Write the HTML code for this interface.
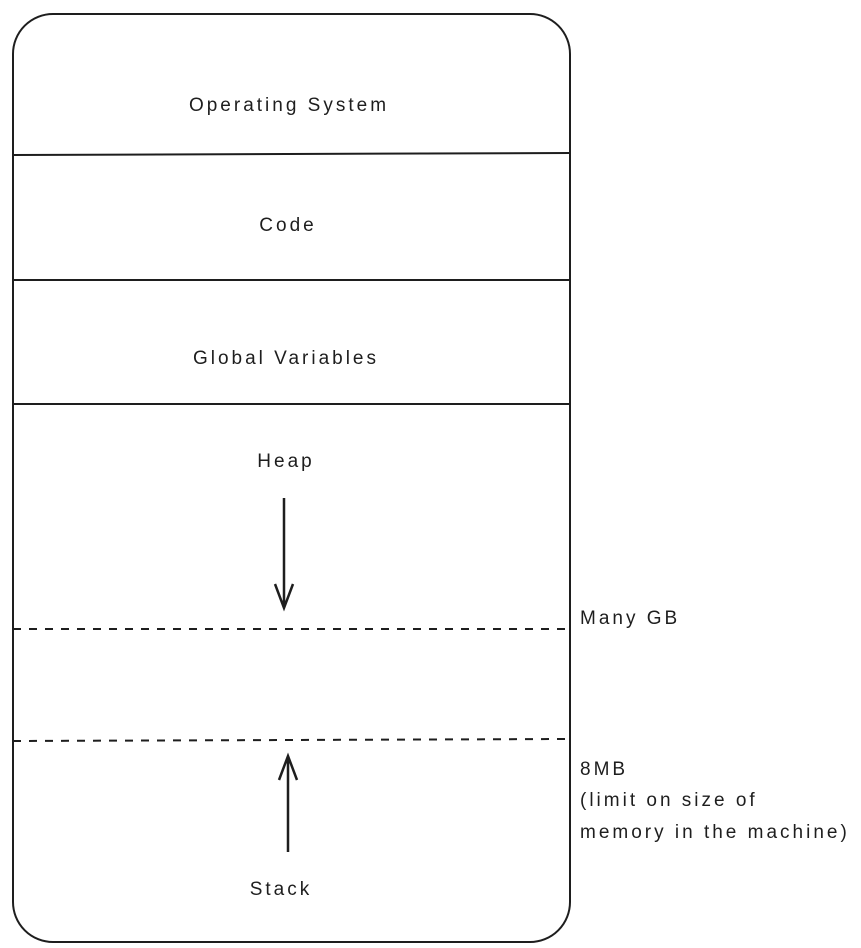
<!DOCTYPE html>
<html><head><meta charset="utf-8"><style>
html,body{margin:0;padding:0;background:#fff;}
svg{display:block;}
text{font-family:"Liberation Sans",sans-serif;font-size:19px;fill:#1e1e1e;letter-spacing:3px;}
</style></head><body>
<svg width="861" height="948" viewBox="0 0 861 948" xmlns="http://www.w3.org/2000/svg">
<rect x="13" y="14" width="557" height="928" rx="40" ry="40" fill="none" stroke="#1e1e1e" stroke-width="2"/>
<line x1="13" y1="155" x2="570" y2="153" stroke="#1e1e1e" stroke-width="2"/>
<line x1="13" y1="280" x2="570" y2="280" stroke="#1e1e1e" stroke-width="2"/>
<line x1="13" y1="404" x2="570" y2="404" stroke="#1e1e1e" stroke-width="2"/>
<line x1="13" y1="629" x2="565" y2="629" stroke="#1e1e1e" stroke-width="2" stroke-dasharray="8 8"/>
<line x1="13" y1="741" x2="565" y2="739" stroke="#1e1e1e" stroke-width="2" stroke-dasharray="8 8"/>
<path d="M284 498 L284 608 M275 584 L284 608 L293 584" fill="none" stroke="#1e1e1e" stroke-width="2.5"/>
<path d="M288 852 L288 756 M279 780 L288 756 L297 780" fill="none" stroke="#1e1e1e" stroke-width="2.5"/>
<text x="289" y="111" text-anchor="middle">Operating System</text>
<text x="288" y="231" text-anchor="middle">Code</text>
<text x="286" y="364" text-anchor="middle">Global Variables</text>
<text x="286" y="467" text-anchor="middle">Heap</text>
<text x="281" y="895" text-anchor="middle">Stack</text>
<text x="580" y="624">Many GB</text>
<text x="580" y="775">8MB</text>
<text x="580" y="806">(limit on size of</text>
<text x="580" y="838">memory in the machine)</text>
</svg>
</body></html>
